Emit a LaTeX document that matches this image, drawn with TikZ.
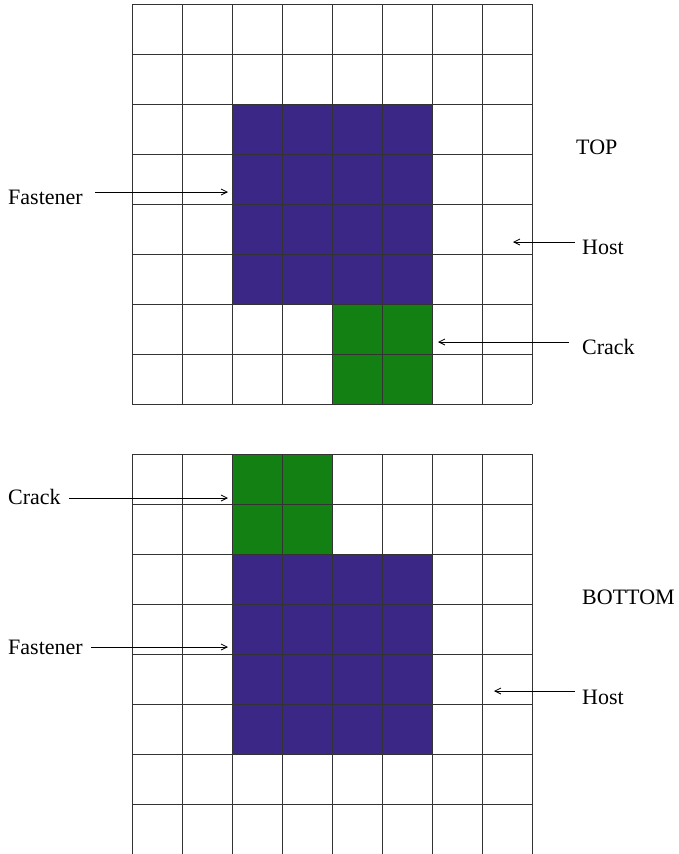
\documentclass[tikz,border=0pt]{standalone}
\usepackage{fontspec}
\setmainfont{Liberation Serif}
\newfontfamily\lblfont{Liberation Serif}
\usetikzlibrary{arrows.meta}
\definecolor{fastc}{RGB}{59,39,133}
\definecolor{crackc}{RGB}{18,128,18}
\begin{document}
\begin{tikzpicture}[x=1pt,y=-1pt,
  lbl/.style={font=\lblfont\fontsize{22}{26}\selectfont, inner sep=0pt, anchor=base west},
  ptr/.style={line width=0.8pt, -{Straight Barb[length=6pt,width=6pt]}},
  gridl/.style={line width=0.9pt, draw=black!80}]
\useasboundingbox (0,0) rectangle (678,854);
% top panel
\fill[fastc] (232,104) rectangle (432,304);
\fill[crackc] (332,304) rectangle (432,404);
\foreach \i in {0,...,8} {
  \draw[gridl] (132+50*\i,4) -- (132+50*\i,404);
  \draw[gridl] (132,4+50*\i) -- (532,4+50*\i);
}
% bottom panel
\fill[crackc] (232,454) rectangle (332,554);
\fill[fastc] (232,554) rectangle (432,754);
\foreach \i in {0,...,8} {
  \draw[gridl] (132+50*\i,454) -- (132+50*\i,854);
  \draw[gridl] (132,454+50*\i) -- (532,454+50*\i);
}
% labels top
\node[lbl] (top) at (576,154) {TOP};
\node[lbl] (fastT) at (8,204) {Fastener};
\node[lbl] (hostT) at (582,254) {Host};
\node[lbl] (crackT) at (582,354) {Crack};
% labels bottom
\node[lbl] (crackB) at (8,504) {Crack};
\node[lbl] (bottom) at (582,604) {BOTTOM};
\node[lbl] (fastB) at (8,654) {Fastener};
\node[lbl] (hostB) at (582,704) {Host};
% arrow ends
\coordinate (fastTs) at (95,192);  \coordinate (fastTe) at (228,192);
\coordinate (hostTs) at (575,242); \coordinate (hostTe) at (513,242);
\coordinate (crackTs) at (569,342); \coordinate (crackTe) at (438,342);
\coordinate (crackBs) at (69,498); \coordinate (crackBe) at (228,498);
\coordinate (fastBs) at (91,647);  \coordinate (fastBe) at (228,647);
\coordinate (hostBs) at (575,691); \coordinate (hostBe) at (494,691);
\draw[ptr] (fastTs) -- (fastTe);
\draw[ptr] (hostTs) -- (hostTe);
\draw[ptr] (crackTs) -- (crackTe);
\draw[ptr] (crackBs) -- (crackBe);
\draw[ptr] (fastBs) -- (fastBe);
\draw[ptr] (hostBs) -- (hostBe);
\end{tikzpicture}
\end{document}
